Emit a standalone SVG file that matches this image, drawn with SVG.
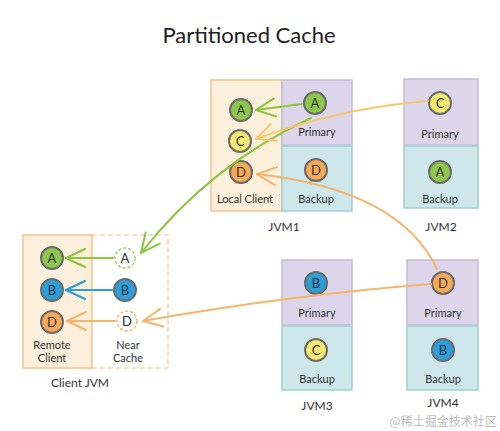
<svg xmlns="http://www.w3.org/2000/svg" width="500" height="431" viewBox="0 0 500 431">
<defs>
<style>
text{font-family:Lato,"Open Sans","Liberation Sans",sans-serif;fill:#333;text-anchor:middle}
.t{font-size:11px}
.lbl{font-size:12px}
.c{font-size:13px}
.pri{fill:#ddd6ea;stroke:#c3bcd6;stroke-width:1.5}
.bak{fill:#cde7ea;stroke:#9fcfd5;stroke-width:1.5}
.loc{fill:#fcf0dc;stroke:#f6c48b;stroke-width:1.5}
.near{fill:none;stroke:#f6c48b;stroke-width:1.2;stroke-dasharray:5 3}
.ring{stroke:#6b6b6b;stroke-width:2}
.g{fill:#8dc74b}.b{fill:#2b9fdc}.o{fill:#f6a957}.y{fill:#f6ea72}
.ln{fill:none;stroke-width:2;stroke-linecap:round}
</style>
<marker id="ag" viewBox="0 0 22 22" refX="21" refY="11" markerWidth="22" markerHeight="22" markerUnits="userSpaceOnUse" orient="auto"><path d="M2,2 L21,11 L2,20" fill="none" stroke="#8cc63f" stroke-width="2" stroke-linecap="round"/></marker>
<marker id="ab" viewBox="0 0 22 22" refX="21" refY="11" markerWidth="22" markerHeight="22" markerUnits="userSpaceOnUse" orient="auto"><path d="M2,2 L21,11 L2,20" fill="none" stroke="#2b9fdc" stroke-width="2" stroke-linecap="round"/></marker>
<marker id="ao" viewBox="0 0 22 22" refX="21" refY="11" markerWidth="22" markerHeight="22" markerUnits="userSpaceOnUse" orient="auto"><path d="M2,2 L21,11 L2,20" fill="none" stroke="#f6b46c" stroke-width="2" stroke-linecap="round"/></marker>
<marker id="ay" viewBox="0 0 22 22" refX="21" refY="11" markerWidth="22" markerHeight="22" markerUnits="userSpaceOnUse" orient="auto"><path d="M2,2 L21,11 L2,20" fill="none" stroke="#f7c76e" stroke-width="2" stroke-linecap="round"/></marker>
</defs>
<rect width="500" height="431" fill="#fff"/>
<text x="249" y="43" style="font-size:22px;fill:#222">Partitioned Cache</text>

<g id="jvm1">
<rect class="loc" x="211" y="80" width="71" height="131"/>
<rect class="pri" x="282" y="80" width="70" height="65"/>
<rect class="bak" x="282" y="146" width="70" height="65"/>
<circle class="ring g" cx="241" cy="110" r="11"/><text class="c" x="241" y="115">A</text>
<circle class="ring y" cx="240" cy="141" r="11"/><text class="c" x="240" y="146">C</text>
<circle class="ring o" cx="241" cy="172" r="11"/><text class="c" x="241" y="177">D</text>
<circle class="ring g" cx="315" cy="103" r="11"/><text class="c" x="315" y="108">A</text>
<circle class="ring o" cx="316" cy="170" r="11"/><text class="c" x="316" y="175">D</text>
<text class="t" x="245" y="203">Local Client</text>
<text class="t" x="317" y="136">Primary</text>
<text class="t" x="316" y="203">Backup</text>
<text class="lbl" x="284" y="231">JVM1</text>
</g>

<g id="jvm2">
<rect class="pri" x="404" y="79" width="74" height="66"/>
<rect class="bak" x="404" y="146" width="74" height="62"/>
<circle class="ring y" cx="440" cy="103" r="11"/><text class="c" x="440" y="108">C</text>
<circle class="ring g" cx="440" cy="172" r="11"/><text class="c" x="440" y="177">A</text>
<text class="t" x="440" y="138">Primary</text>
<text class="t" x="440" y="203">Backup</text>
<text class="lbl" x="441" y="231">JVM2</text>
</g>

<g id="jvm3">
<rect class="pri" x="282" y="260" width="70" height="65"/>
<rect class="bak" x="282" y="326" width="70" height="64"/>
<circle class="ring b" cx="316" cy="283" r="11"/><text class="c" x="316" y="288">B</text>
<circle class="ring y" cx="316" cy="350" r="11"/><text class="c" x="316" y="355">C</text>
<text class="t" x="317" y="317">Primary</text>
<text class="t" x="317" y="383">Backup</text>
<text class="lbl" x="317" y="410">JVM3</text>
</g>

<g id="jvm4">
<rect class="pri" x="407" y="260" width="71" height="65"/>
<rect class="bak" x="407" y="326" width="71" height="64"/>
<circle class="ring o" cx="443" cy="283" r="11"/><text class="c" x="443" y="288">D</text>
<circle class="ring b" cx="443" cy="350" r="11"/><text class="c" x="443" y="355">B</text>
<text class="t" x="443" y="317">Primary</text>
<text class="t" x="443" y="383">Backup</text>
<text class="lbl" x="443" y="407">JVM4</text>
</g>

<g id="client">
<rect class="loc" x="23" y="235" width="69" height="133"/>
<path class="near" d="M92,235 H168 V368 H92"/>
<circle class="ring g" cx="52" cy="258" r="11"/><text class="c" x="52" y="263">A</text>
<circle class="ring b" cx="52" cy="290" r="11"/><text class="c" x="52" y="295">B</text>
<circle class="ring o" cx="52" cy="322" r="11"/><text class="c" x="52" y="327">D</text>
<circle cx="125" cy="258" r="10" fill="#fff" stroke="#9fd065" stroke-width="1.5" stroke-dasharray="3 2"/><text class="c" x="125" y="263">A</text>
<circle class="ring b" cx="125" cy="290" r="11"/><text class="c" x="125" y="295">B</text>
<circle cx="127" cy="321" r="10" fill="#fff" stroke="#f6b46c" stroke-width="1.5" stroke-dasharray="3 2"/><text class="c" x="127" y="326">D</text>
<text class="t" x="52" y="349">Remote</text>
<text class="t" x="52" y="362">Client</text>
<text class="t" x="128" y="349">Near</text>
<text class="t" x="128" y="362">Cache</text>
<text class="lbl" x="80" y="387">Client JVM</text>
</g>

<g id="connectors">
<path class="ln" stroke="#8cc63f" marker-end="url(#ag)" d="M302,104 L256,110"/>
<path class="ln" stroke="#8cc63f" marker-end="url(#ag)" d="M311,118 Q210,165 141,253"/>
<path class="ln" stroke="#8cc63f" marker-end="url(#ag)" d="M113,258 L66,258"/>
<path class="ln" stroke="#2b9fdc" marker-end="url(#ab)" d="M112,290 L66,290"/>
<path class="ln" stroke="#f6b46c" marker-end="url(#ao)" d="M115,321 L67,321"/>
<path class="ln" stroke="#f7c76e" marker-end="url(#ay)" d="M428,101 Q340,108 256,139"/>
<path class="ln" stroke="#f6b46c" marker-end="url(#ao)" d="M437,269 Q400,190 257,174"/>
<path class="ln" stroke="#f6b46c" marker-end="url(#ao)" d="M431,284 Q290,295 143,321"/>
</g>
<text x="443" y="426" style="font-size:12px;fill:#bbb;font-family:'Noto Sans CJK SC',sans-serif">@稀土掘金技术社区</text>
</svg>
